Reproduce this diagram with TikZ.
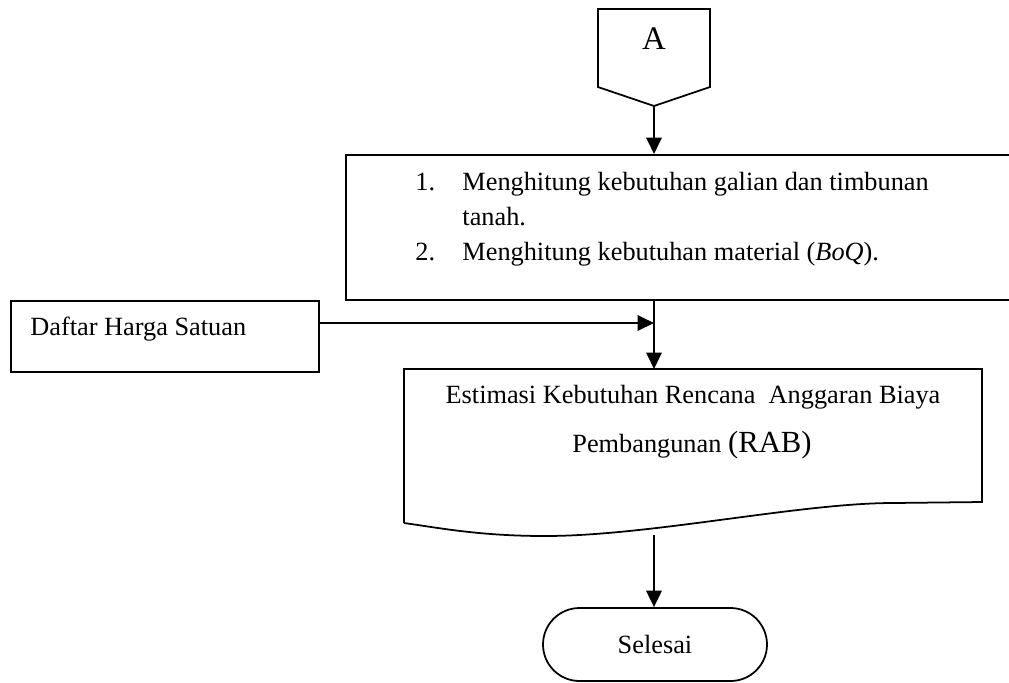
\documentclass[tikz,border=0pt]{standalone}
\usepackage{fontspec}
\setmainfont{Liberation Serif}
\usetikzlibrary{arrows.meta,positioning}
\newcommand\pxu{0.456pt}
\tikzset{
  box/.style={rectangle,draw,line width=0.8pt,inner sep=0pt},
  txt/.style={inner sep=0pt,font=\fontsize{12}{16}\selectfont},
  flow/.style={line width=1pt,-{Triangle[length=7.5pt,width=7pt]}},
}
\begin{document}
\begin{tikzpicture}[x=\pxu,y=-\pxu]
  \useasboundingbox (0,0) rectangle (1009,682);
  % penghubung A
  \node[inner sep=0pt,font=\fontsize{15}{18}\selectfont,anchor=base] (A) at (654,49) {A};
  \draw[line width=0.8pt] (598,9) -- (710,9) -- (710,87) -- (654,106) coordinate (Atip) -- (598,87) -- cycle;
  % perhitungan
  \node[box,minimum width=667*\pxu,minimum height=145*\pxu,anchor=north west] (hitung) at (345,154) {};
  \node[txt,anchor=base west] (no1) at (415,190) {1.};
  \node[txt,anchor=base west] (it1) at (462,190) {Menghitung kebutuhan galian dan timbunan};
  \node[txt,anchor=base west] (it1b) at (462,225) {tanah.};
  \node[txt,anchor=base west] (no2) at (415,260) {2.};
  \node[txt,anchor=base west] (it2) at (462,260) {Menghitung kebutuhan material (\textit{BoQ}).};
  % harga satuan
  \node[box,minimum width=308*\pxu,minimum height=71*\pxu,anchor=north west] (daftar) at (10,300) {};
  \node[txt,anchor=base west] (daftartxt) at (30,335) {Daftar Harga Satuan};
  % dokumen RAB
  \draw[line width=0.8pt] (404,523) -- (404,369) -- (982,369) -- (982,502) -- (893,503)
    .. controls (800,503) and (650,536) .. (545,536)
    .. controls (480,536) and (440,528) .. (404,523);
  \coordinate (rabtop) at (654,369);
  \coordinate (rabbot) at (654,535);
  \node[txt,anchor=base] (rab1) at (693,403) {Estimasi Kebutuhan Rencana\ \ Anggaran Biaya};
  \node[txt,anchor=base] (rab2) at (692,452) {Pembangunan {\fontsize{14}{16}\selectfont(RAB)}};
  % selesai
  \node[box,rounded corners=36.5*\pxu,minimum width=224*\pxu,minimum height=73*\pxu,font=\fontsize{12}{16}\selectfont] (selesai) at (655,644.5) {Selesai};
  % alur
  \coordinate (join) at (654,323);
  \draw[flow] (Atip) -- (Atip |- hitung.north);
  \draw[flow] (daftar.east |- join) -- (join);
  \draw[flow] (Atip |- hitung.south) -- (rabtop);
  \draw[flow] (rabbot) -- (rabbot |- selesai.north);
\end{tikzpicture}
\end{document}
